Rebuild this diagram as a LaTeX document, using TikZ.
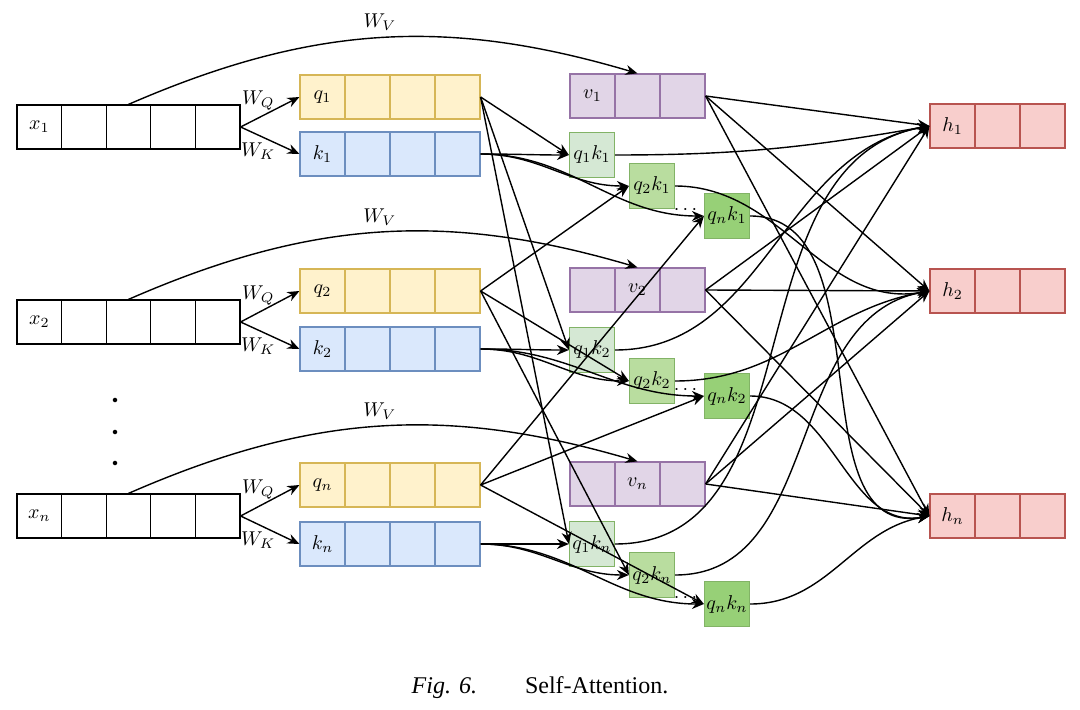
\documentclass[tikz,border=0pt]{standalone}
\usepackage{fontspec}
\setmainfont{Liberation Serif}
\usepackage{amsmath}
\usetikzlibrary{arrows.meta, positioning}
\definecolor{qfill}{HTML}{FFF2CC}\definecolor{qline}{HTML}{D6B656}
\definecolor{kfill}{HTML}{DAE8FC}\definecolor{kline}{HTML}{6C8EBF}
\definecolor{vfill}{HTML}{E1D5E7}\definecolor{vline}{HTML}{9673A6}
\definecolor{hfill}{HTML}{F8CECC}\definecolor{hline}{HTML}{B85450}
\definecolor{gline}{HTML}{82B366}
\definecolor{qkone}{HTML}{D5E8D4}
\definecolor{qktwo}{HTML}{B9DD9F}
\definecolor{qkthree}{HTML}{97D077}
\tikzset{cell/.style={draw, line width=0.6pt, minimum width=22.3pt, minimum height=22pt, inner sep=0pt, font=\normalsize},
xcell/.style={cell, draw=black, fill=white},
qcell/.style={cell, minimum width=22.5pt, draw=qline, fill=qfill},
kcell/.style={cell, minimum width=22.5pt, draw=kline, fill=kfill},
vcell/.style={cell, minimum width=22.5pt, draw=vline, fill=vfill},
hcell/.style={cell, minimum width=22.5pt, draw=hline, fill=hfill},
qkcell/.style={cell, minimum width=22.5pt, minimum height=22.5pt, draw=gline, fill=#1},
lab/.style={font=\normalsize},
arr/.style={-{Stealth[length=6pt,width=5pt]}, line width=0.7pt}}

\begin{document}
\begin{tikzpicture}[x=0.5pt, y=-0.5pt]
 \useasboundingbox (0,0) rectangle (1080,710);

 % boxes of each row
 \foreach \r/\xy/\qy/\ky/\vy/\vc/\hy/\ya/\yb/\yc in {1/127/97/154/96/1/126/155/186/216, 2/322/291/349/290/2/291/350/381/396, n/516/485/544/484/2/516/544/575/604} {
  \foreach \i in {1,...,5}
   \node[xcell] (x\r-\i) at ({17+22.3+44.6*(\i-1)},\xy) {};
  \foreach \i in {1,...,4} {
   \node[qcell] (q\r-\i) at ({300+22.5+45*(\i-1)},\qy) {};
   \node[kcell] (k\r-\i) at ({300+22.5+45*(\i-1)},\ky) {};
  }
  \foreach \i in {1,...,3} {
   \node[vcell] (v\r-\i) at ({570+22.5+45*(\i-1)},\vy) {};
   \node[hcell] (h\r-\i) at ({930+22.5+45*(\i-1)},\hy) {};
  }
  \node[lab] (xl\r) at (x\r-1) {$x_{\r}$};
  \node[lab] (ql\r) at (q\r-1) {$q_{\r}$};
  \node[lab] (kl\r) at (k\r-1) {$k_{\r}$};
  \node[lab] (vl\r) at (v\r-\vc) {$v_{\r}$};
  \node[lab] (hl\r) at (h\r-1) {$h_{\r}$};
  \node[qkcell=qkone] (qk1\r) at (592,\ya) {$q_1k_{\r}$};
  \node[qkcell=qktwo] (qk2\r) at (652,\yb) {$q_2k_{\r}$};
  \node[qkcell=qkthree] (qkn\r) at (727,\yc) {$q_nk_{\r}$};

  % projections
  \draw[arr] (x\r-5.east) -- (q\r-1.west) node[pos=0.3, above, lab] (wq\r) {$W_Q$};
  \draw[arr] (x\r-5.east) -- (k\r-1.west) node[pos=0.3, below, lab] (wk\r) {$W_K$};
  \draw[arr] (x\r-3.north) to[bend left=20] node[above, lab] (wv\r) {$W_V$} (v\r-2.north);
 }

 % vertical dots
 \foreach \d/\dy in {1/400,2/432,3/463}
  \node[circle, fill, inner sep=0.8pt] (vd\d) at (115,\dy) {};

 % scores
 \foreach \i in {1,2,n}
  \foreach \j in {1,2,n} {
   \draw[arr] (q\i-4.east) -- (qk\i\j.west);
   \draw[arr] (k\j-4.east) to[out=0, in=180] (qk\i\j.west);
  }

 % outputs
 \foreach \t in {1,2,n}
  \foreach \j in {1,2,n} {
   \draw[arr] (v\j-3.east) -- (h\t-1.west);
   \draw[arr] (qk\t\j.east) to[out=0, in=190] (h\t-1.west);
  }

 % dots before the last score
 \foreach \r in {1,2,n}
  \node[lab, inner sep=0.5pt, above left=0pt and 1pt of qkn\r.west] (dots\r) {$\cdots$};

 \node[font=\large] (caption) at (540,688) {\textit{Fig. 6.}\qquad Self-Attention.};
\end{tikzpicture}
\end{document}
